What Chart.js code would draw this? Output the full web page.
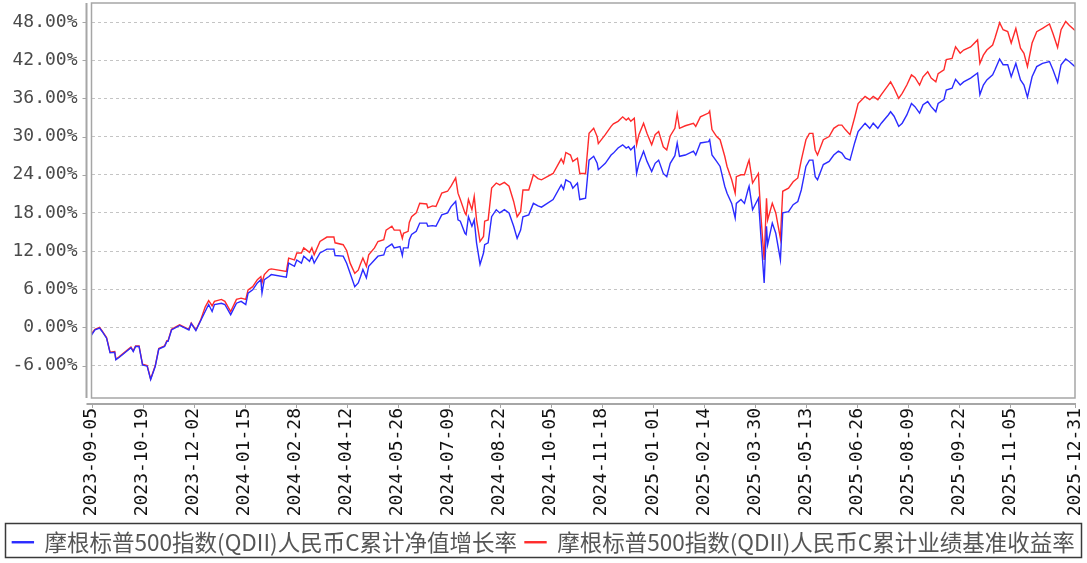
<!DOCTYPE html>
<html>
<head>
<meta charset="utf-8">
<script src="https://cdn.jsdelivr.net/npm/chart.js@4.4.1/dist/chart.umd.min.js"></script>
<style>
  html, body { margin: 0; padding: 0; background: #fff; }
  #wrap { width: 1087px; height: 563px; }
</style>
</head>
<body>
<div id="wrap"><canvas id="chart"></canvas></div>
<script>
const startDate = "2023-09-05";
const seriesNames = ["摩根标普500指数(QDII)人民币C累计净值增长率", "摩根标普500指数(QDII)人民币C累计业绩基准收益率"];
const tickDates = ["2023-09-05", "2023-10-19", "2023-12-02", "2024-01-15", "2024-02-28", "2024-04-12", "2024-05-26", "2024-07-09", "2024-08-22", "2024-10-05",
  "2024-11-18", "2025-01-01", "2025-02-14", "2025-03-30", "2025-05-13", "2025-06-26", "2025-08-09", "2025-09-22", "2025-11-05", "2025-12-31"];
const yTicks = [-6, 0, 6, 12, 18, 24, 30, 36, 42, 48];

// sampled dates and the two return series (%)
const dates = [
  "2023-09-05", "2023-09-08", "2023-09-12", "2023-09-14", "2023-09-18", "2023-09-21", "2023-09-25", "2023-09-26", "2023-09-29", "2023-10-09",
  "2023-10-11", "2023-10-13", "2023-10-16", "2023-10-19", "2023-10-23", "2023-10-26", "2023-10-30", "2023-11-02", "2023-11-07", "2023-11-09",
  "2023-11-10", "2023-11-13", "2023-11-20", "2023-11-28", "2023-11-30", "2023-12-04", "2023-12-08", "2023-12-12", "2023-12-15", "2023-12-18",
  "2023-12-20", "2023-12-26", "2023-12-29", "2024-01-03", "2024-01-08", "2024-01-12", "2024-01-16", "2024-01-18", "2024-01-22", "2024-01-26",
  "2024-01-29", "2024-01-30", "2024-02-01", "2024-02-05", "2024-02-07", "2024-02-20", "2024-02-22", "2024-02-27", "2024-02-29", "2024-03-04",
  "2024-03-06", "2024-03-11", "2024-03-13", "2024-03-15", "2024-03-20", "2024-03-26", "2024-04-01", "2024-04-02", "2024-04-09", "2024-04-12",
  "2024-04-15", "2024-04-19", "2024-04-22", "2024-04-24", "2024-04-26", "2024-04-29", "2024-05-01", "2024-05-06", "2024-05-09", "2024-05-14",
  "2024-05-16", "2024-05-21", "2024-05-23", "2024-05-28", "2024-05-30", "2024-05-31", "2024-06-04", "2024-06-05", "2024-06-07", "2024-06-11",
  "2024-06-14", "2024-06-20", "2024-06-21", "2024-06-25", "2024-06-28", "2024-07-03", "2024-07-08", "2024-07-11", "2024-07-15", "2024-07-17",
  "2024-07-19", "2024-07-23", "2024-07-24", "2024-07-26", "2024-07-29", "2024-07-31", "2024-08-02", "2024-08-05", "2024-08-08", "2024-08-09",
  "2024-08-12", "2024-08-15", "2024-08-19", "2024-08-22", "2024-08-26", "2024-08-30", "2024-09-03", "2024-09-06", "2024-09-09", "2024-09-11",
  "2024-09-16", "2024-09-20", "2024-09-24", "2024-09-27", "2024-10-07", "2024-10-14", "2024-10-16", "2024-10-18", "2024-10-22", "2024-10-24",
  "2024-10-28", "2024-10-30", "2024-11-04", "2024-11-07", "2024-11-11", "2024-11-14", "2024-11-15", "2024-11-21", "2024-11-26", "2024-11-28",
  "2024-12-02", "2024-12-06", "2024-12-09", "2024-12-11", "2024-12-13", "2024-12-16", "2024-12-18", "2024-12-20", "2024-12-24", "2024-12-27",
  "2024-12-31", "2025-01-03", "2025-01-06", "2025-01-10", "2025-01-13", "2025-01-16", "2025-01-20", "2025-01-22", "2025-01-24", "2025-01-29",
  "2025-02-05", "2025-02-07", "2025-02-11", "2025-02-18", "2025-02-19", "2025-02-21", "2025-02-25", "2025-02-28", "2025-03-04", "2025-03-06",
  "2025-03-10", "2025-03-13", "2025-03-14", "2025-03-18", "2025-03-21", "2025-03-24", "2025-03-25", "2025-03-28", "2025-04-02", "2025-04-04",
  "2025-04-07", "2025-04-09", "2025-04-10", "2025-04-14", "2025-04-17", "2025-04-21", "2025-04-23", "2025-04-28", "2025-05-02", "2025-05-06",
  "2025-05-09", "2025-05-13", "2025-05-16", "2025-05-19", "2025-05-21", "2025-05-23", "2025-05-28", "2025-06-02", "2025-06-06", "2025-06-10",
  "2025-06-13", "2025-06-16", "2025-06-20", "2025-06-24", "2025-06-27", "2025-07-03", "2025-07-07", "2025-07-10", "2025-07-14", "2025-07-17",
  "2025-07-23", "2025-07-25", "2025-07-28", "2025-08-01", "2025-08-04", "2025-08-08", "2025-08-12", "2025-08-15", "2025-08-19", "2025-08-22",
  "2025-08-26", "2025-08-29", "2025-09-02", "2025-09-04", "2025-09-09", "2025-09-11", "2025-09-16", "2025-09-19", "2025-09-23", "2025-09-26",
  "2025-10-02", "2025-10-08", "2025-10-10", "2025-10-13", "2025-10-16", "2025-10-21", "2025-10-23", "2025-10-27", "2025-10-30", "2025-11-03",
  "2025-11-06", "2025-11-10", "2025-11-14", "2025-11-17", "2025-11-20", "2025-11-24", "2025-11-28", "2025-12-03", "2025-12-09", "2025-12-12",
  "2025-12-16", "2025-12-19", "2025-12-23", "2025-12-26", "2025-12-31"
];
const navGrowth = [
  -1.2, -0.4, -0.1, -0.6, -1.7, -4.0, -3.9, -5.1, -4.7, -3.2,
  -3.8, -3.0, -3.0, -5.9, -6.1, -8.2, -6.1, -3.4, -3.0, -2.2,
  -2.2, -0.4, 0.3, -0.4, 0.6, -0.5, 1.0, 2.5, 3.6, 2.5,
  3.6, 3.8, 3.6, 2.0, 3.8, 4.1, 3.6, 5.4, 5.9, 7.0,
  7.5, 5.4, 7.5, 8.0, 8.3, 7.9, 10.1, 9.6, 10.6, 10.1,
  11.2, 10.4, 11.2, 10.1, 11.7, 12.3, 12.3, 11.3, 11.2, 10.1,
  8.5, 6.4, 7.0, 8.0, 9.1, 7.8, 9.6, 10.6, 11.2, 11.4,
  12.5, 13.1, 12.5, 12.7, 11.3, 12.5, 12.5, 13.8, 14.6, 15.1,
  16.4, 16.4, 15.9, 16.0, 15.9, 17.7, 18.0, 19.0, 19.8, 16.9,
  16.7, 14.8, 14.6, 17.4, 15.9, 16.9, 13.3, 9.9, 11.7, 13.0,
  13.3, 17.4, 18.5, 18.0, 18.5, 18.0, 15.9, 14.0, 15.3, 17.4,
  17.7, 19.5, 19.1, 18.9, 20.1, 22.4, 21.7, 23.2, 22.8, 21.9,
  22.7, 20.1, 20.3, 26.3, 26.9, 25.8, 24.8, 25.8, 27.1, 27.4,
  28.2, 28.7, 28.2, 28.4, 27.9, 28.5, 24.2, 25.8, 27.7, 26.1,
  24.5, 25.8, 26.3, 24.2, 23.7, 25.8, 27.0, 29.0, 26.9, 27.1,
  27.7, 27.1, 29.0, 29.2, 29.5, 27.1, 26.1, 25.3, 22.2, 21.1,
  19.5, 17.2, 19.5, 20.1, 19.5, 21.6, 22.2, 18.5, 20.3, 14.8,
  7.0, 15.9, 13.0, 16.4, 14.8, 10.6, 18.0, 18.2, 19.3, 19.8,
  21.6, 25.3, 26.3, 26.3, 23.7, 23.2, 25.6, 26.1, 27.1, 27.7,
  27.4, 26.6, 26.3, 29.0, 30.8, 32.1, 31.3, 32.1, 31.3, 32.1,
  33.4, 33.9, 33.2, 31.6, 32.1, 33.4, 35.2, 34.7, 33.7, 35.0,
  35.5, 34.7, 33.9, 35.2, 35.8, 37.3, 37.6, 39.0, 38.1, 38.6,
  39.2, 40.0, 36.6, 38.1, 38.9, 39.7, 40.5, 42.2, 41.3, 41.3,
  39.4, 41.5, 38.9, 38.1, 36.2, 39.4, 41.0, 41.5, 41.8, 40.5,
  38.5, 41.3, 42.2, 41.8, 41.0
];
const benchmark = [
  -1.0, -0.3, 0.0, -0.5, -1.6, -3.9, -3.8, -5.0, -4.6, -3.1,
  -3.7, -2.9, -2.9, -5.8, -6.0, -8.1, -6.0, -3.3, -2.9, -2.1,
  -2.1, -0.3, 0.4, -0.3, 0.7, -0.4, 1.1, 3.2, 4.2, 3.4,
  4.1, 4.4, 4.1, 2.5, 4.4, 4.6, 4.4, 5.9, 6.4, 7.5,
  8.0, 7.0, 8.3, 9.1, 9.2, 8.8, 10.9, 10.6, 11.7, 11.7,
  12.5, 11.8, 12.5, 11.4, 13.5, 14.2, 14.2, 13.3, 13.0, 12.1,
  10.1, 8.5, 9.0, 10.0, 10.9, 9.6, 11.4, 12.5, 13.5, 13.8,
  15.3, 15.9, 15.3, 15.3, 14.0, 14.8, 15.1, 16.5, 17.4, 18.0,
  19.5, 19.4, 18.8, 19.1, 19.0, 21.1, 21.4, 22.2, 23.5, 21.1,
  20.1, 18.0, 17.7, 20.1, 18.5, 20.6, 16.9, 13.5, 14.3, 16.7,
  16.9, 21.9, 22.7, 22.4, 22.8, 22.2, 19.8, 17.4, 18.2, 21.6,
  21.6, 24.0, 23.4, 23.2, 24.2, 26.5, 25.8, 27.5, 27.1, 26.1,
  26.6, 24.2, 24.2, 30.5, 31.3, 30.0, 28.9, 30.3, 31.6, 32.0,
  32.4, 33.1, 32.6, 32.9, 32.4, 32.9, 28.7, 30.3, 32.1, 30.5,
  28.7, 30.3, 30.8, 28.4, 27.9, 30.1, 31.3, 33.6, 31.3, 31.7,
  32.1, 31.6, 33.1, 33.7, 34.0, 31.1, 30.0, 29.5, 26.9, 25.3,
  23.2, 21.1, 23.7, 24.0, 24.0, 25.8, 26.3, 22.7, 24.2, 18.0,
  10.6, 20.3, 16.9, 19.5, 18.0, 14.0, 21.4, 21.9, 22.9, 23.5,
  26.3, 29.5, 30.5, 30.5, 27.9, 27.1, 29.5, 30.0, 31.3, 31.8,
  31.8, 31.1, 30.3, 33.0, 35.2, 36.3, 35.8, 36.3, 35.8, 36.6,
  38.1, 38.6, 37.6, 36.0, 36.8, 38.1, 39.7, 39.3, 38.1, 39.4,
  40.2, 39.2, 38.6, 39.9, 40.5, 42.1, 42.3, 44.1, 43.1, 43.6,
  44.1, 45.2, 41.5, 42.8, 43.6, 44.4, 45.5, 47.9, 46.8, 46.5,
  44.7, 47.0, 43.9, 43.1, 41.0, 44.7, 46.5, 47.0, 47.7, 46.2,
  44.0, 46.8, 48.1, 47.5, 46.7
];

const DAY = 86400000;
const toDay = (s) => Math.round((Date.parse(s) - Date.parse(startDate)) / DAY);
const fromDay = (d) => new Date(Date.parse(startDate) + d * DAY).toISOString().slice(0, 10);

const lineColors = ["#2b2bff", "#ff2b2b"];
const monoFont = "'DejaVu Sans Mono', monospace";

// drop the label overhang padding chart.js adds, so the plot area sits where the reference has it
const setPad = (scale, right) => {
  scale.paddingTop = 0;
  scale.paddingBottom = 0;
  scale.paddingLeft = 0;
  scale.paddingRight = right;
};

// plot frame, detached axis lines and the legend box
const framePlugin = {
  id: "frame",
  afterDraw(chart) {
    const { ctx, chartArea: a, scales } = chart;
    ctx.save();
    ctx.strokeStyle = "#a6a6a6";
    ctx.lineWidth = 1.5;
    ctx.strokeRect(a.left, a.top, a.right - a.left, a.bottom - a.top);

    const ax = a.left - 5;
    const ay = a.bottom + 6;
    ctx.lineWidth = 2;
    ctx.beginPath();
    ctx.moveTo(ax, a.top);
    ctx.lineTo(ax, a.bottom);
    ctx.moveTo(ax, ay);
    ctx.lineTo(a.right + 1, ay);
    ctx.stroke();

    ctx.lineWidth = 1;
    ctx.beginPath();
    yTicks.forEach((v) => {
      const y = Math.round(scales.y.getPixelForValue(v)) + 0.5;
      ctx.moveTo(ax - 4, y);
      ctx.lineTo(ax, y);
    });
    tickDates.forEach((d) => {
      const x = Math.round(scales.x.getPixelForValue(toDay(d))) + 0.5;
      ctx.moveTo(x, ay);
      ctx.lineTo(x, ay + 4);
    });
    ctx.stroke();

    const lg = chart.legend;
    ctx.strokeStyle = "#3a3a3a";
    ctx.lineWidth = 1.5;
    ctx.strokeRect(5.5, lg.top + 0.5, 1076, lg.height - 1);
    ctx.restore();
  },
};

const makePoints = (values) => values.map((v, i) => ({ x: toDay(dates[i]), y: v }));

new Chart(document.getElementById("chart"), {
  type: "line",
  data: {
    datasets: [
      { label: seriesNames[0], data: makePoints(navGrowth), borderColor: lineColors[0], backgroundColor: lineColors[0] },
      { label: seriesNames[1], data: makePoints(benchmark), borderColor: lineColors[1], backgroundColor: lineColors[1] },
    ],
  },
  options: {
    responsive: true,
    maintainAspectRatio: false,
    animation: false,
    layout: { padding: { top: 3, right: 0, left: 0, bottom: 5 } },
    elements: {
      line: { borderWidth: 1.4, tension: 0 },
      point: { radius: 0 },
    },
    scales: {
      x: {
        type: "linear",
        min: 0,
        max: toDay(tickDates[tickDates.length - 1]),
        afterBuildTicks: (scale) => { scale.ticks = tickDates.map((d) => ({ value: toDay(d) })); },
        afterFit: (scale) => { scale.height = 125; setPad(scale, 12); },
        grid: { display: false, drawTicks: false },
        border: { display: false },
        ticks: {
          autoSkip: false,
          maxRotation: 90,
          minRotation: 90,
          padding: 10,
          color: "#111",
          font: { family: monoFont, size: 18 },
          callback: (v) => fromDay(v),
        },
      },
      y: {
        min: -11.1,
        max: 51,
        afterBuildTicks: (scale) => { scale.ticks = yTicks.map((v) => ({ value: v })); },
        afterFit: (scale) => { scale.width = 91.5; setPad(scale, 0); },
        grid: { color: "#c4c4c4", lineWidth: 1, drawTicks: false },
        border: { display: false, dash: [3, 3] },
        ticks: {
          padding: 14,
          color: "#4a4a4a",
          font: { family: monoFont, size: 18 },
          callback: (v) => v.toFixed(2) + "%",
        },
      },
    },
    plugins: {
      tooltip: { enabled: false },
      legend: {
        position: "bottom",
        maxHeight: 35,
        labels: {
          boxWidth: 21,
          boxHeight: 1,
          padding: 8,
          color: "#555",
          font: { family: "'Noto Sans CJK SC', sans-serif", size: 22.5 },
        },
      },
    },
  },
  plugins: [framePlugin],
});
</script>
</body>
</html>
